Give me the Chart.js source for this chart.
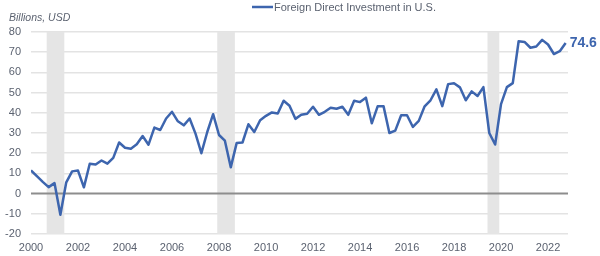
<!DOCTYPE html>
<html>
<head>
<meta charset="utf-8">
<script src="https://cdn.jsdelivr.net/npm/chart.js@4/dist/chart.umd.min.js"></script>
<style>
  html, body { margin: 0; padding: 0; background: #ffffff; }
  #wrap { width: 600px; height: 256px; position: relative; }
</style>
</head>
<body>
<div id="wrap"><canvas id="c"></canvas></div>
<script>
// ---- Data ----
const seriesName = 'Foreign Direct Investment in U.S.';
const yAxisTitle = 'Billions, USD';

// Quarterly values, 2000Q1 .. 2022Q4 (billions USD)
const fdi = [
  11.5, 8.6, 5.8, 3.2, 5.2, -10.5, 5.6, 11.0,
  11.4, 3.1, 14.8, 14.4, 16.4, 14.8, 17.7, 25.3,
  22.7, 22.2, 24.4, 28.5, 24.2, 32.7, 31.5, 37.2,
  40.5, 35.8, 33.8, 37.2, 29.7, 20.0, 30.5, 39.3,
  29.0, 26.2, 13.0, 25.0, 25.3, 34.3, 30.5, 36.3,
  38.5, 40.2, 39.7, 46.0, 43.5, 37.0, 39.0, 39.5,
  43.0, 39.0, 40.5, 42.5, 42.0, 43.0, 39.0, 46.0,
  45.3, 47.5, 34.8, 43.2, 43.3, 30.0, 31.2, 38.8,
  38.8, 33.0, 36.0, 43.2, 46.2, 51.6, 43.3, 54.2,
  54.6, 52.6, 46.2, 50.6, 48.3, 52.7, 30.0, 24.3,
  44.3, 52.7, 54.7, 75.4, 75.1, 72.2, 72.8, 76.1,
  73.8, 69.1, 70.5, 74.6
];

// Quarter categories
const firstYear = 2000;
const quarters = [];
for (let i = 0; i < fdi.length; i++) {
  quarters.push((firstYear + Math.floor(i / 4)) + 'Q' + (i % 4 + 1));
}

// X-axis tick labels (every 8 quarters)
const yearTicks = ['2000','2002','2004','2006','2008','2010','2012','2014','2016','2018','2020','2022'];

// Y-axis range / ticks
const yMin = -20, yMax = 80, yStep = 10;

// Recession shading, in quarter-index units [start, end]
const recessions = [[2.67, 5.67], [31.7, 34.7], [77.7, 79.7]];

// ---- Styling ----
const BLUE = '#3d65ae';
const TEXT = '#5b6270';
const FONT = "'Liberation Sans', Arial, sans-serif";

const decorPlugin = {
  id: 'decor',
  beforeDatasetsDraw(chart) {
    const {ctx, chartArea, scales} = chart;
    const xs = scales.x, ys = scales.y;
    ctx.save();
    ctx.fillStyle = '#e5e5e5';
    recessions.forEach(([a, b]) => {
      const x1 = xs.getPixelForValue(a);
      const x2 = xs.getPixelForValue(b);
      ctx.fillRect(x1, chartArea.top, x2 - x1, chartArea.bottom - chartArea.top);
    });
    // zero line
    const y0 = ys.getPixelForValue(0);
    ctx.strokeStyle = '#8d8d8d';
    ctx.lineWidth = 2;
    ctx.beginPath();
    ctx.moveTo(chartArea.left, y0);
    ctx.lineTo(chartArea.right, y0);
    ctx.stroke();
    ctx.restore();
  },
  afterDatasetsDraw(chart) {
    const {ctx} = chart;
    const meta = chart.getDatasetMeta(0);
    const last = meta.data[meta.data.length - 1];
    ctx.save();
    ctx.fillStyle = BLUE;
    ctx.font = "bold 14px " + FONT;
    ctx.textAlign = 'left';
    ctx.textBaseline = 'middle';
    ctx.fillText(fdi[fdi.length - 1].toFixed(1), last.x + 4, last.y);
    ctx.restore();
  },
  afterDraw(chart) {
    const {ctx, chartArea} = chart;
    ctx.save();
    // y-axis title
    ctx.fillStyle = TEXT;
    ctx.font = "italic 10.5px " + FONT;
    ctx.textAlign = 'left';
    ctx.textBaseline = 'middle';
    ctx.fillText(yAxisTitle, 9, 18);
    // legend
    const lx = chartArea.left + 221;
    ctx.strokeStyle = BLUE;
    ctx.lineWidth = 2.5;
    ctx.beginPath();
    ctx.moveTo(lx, 7);
    ctx.lineTo(lx + 21, 7);
    ctx.stroke();
    ctx.fillStyle = TEXT;
    ctx.font = "11px " + FONT;
    ctx.fillText(seriesName, lx + 22, 7.5);
    ctx.restore();
  }
};

new Chart(document.getElementById('c'), {
  type: 'line',
  data: {
    labels: quarters,
    datasets: [{
      label: seriesName,
      data: fdi.map((v, i) => ({x: i, y: v})),
      borderColor: BLUE,
      borderWidth: 2.5,
      pointRadius: 0,
      tension: 0,
      fill: false,
      borderJoinStyle: 'round'
    }]
  },
  options: {
    responsive: true,
    maintainAspectRatio: false,
    animation: false,
    layout: { padding: { top: 32, right: 32, bottom: 0, left: 0 } },
    plugins: { legend: { display: false }, tooltip: { enabled: false } },
    scales: {
      x: {
        type: 'linear',
        min: 0,
        max: 91.4,
        grid: { display: false, drawTicks: false },
        border: { display: false },
        afterBuildTicks: (s) => { s.ticks = yearTicks.map((_, k) => ({ value: k * 8 })); },
        afterFit: (s) => { s.height = 22; },
        ticks: {
          autoSkip: false,
          maxRotation: 0,
          padding: 7,
          color: TEXT,
          font: { family: FONT, size: 11 },
          callback: (v) => yearTicks[Math.round(v / 8)]
        }
      },
      y: {
        min: yMin,
        max: yMax,
        grid: {
          drawTicks: false,
          lineWidth: 1.5,
          color: (c) => (c.tick && c.tick.value === 0) ? 'rgba(0,0,0,0)' : '#e3e3e3'
        },
        border: { display: false },
        afterFit: (s) => { s.width = 31; },
        ticks: {
          stepSize: yStep,
          padding: 10,
          color: TEXT,
          font: { family: FONT, size: 11 }
        }
      }
    }
  },
  plugins: [decorPlugin]
});
</script>
</body>
</html>
